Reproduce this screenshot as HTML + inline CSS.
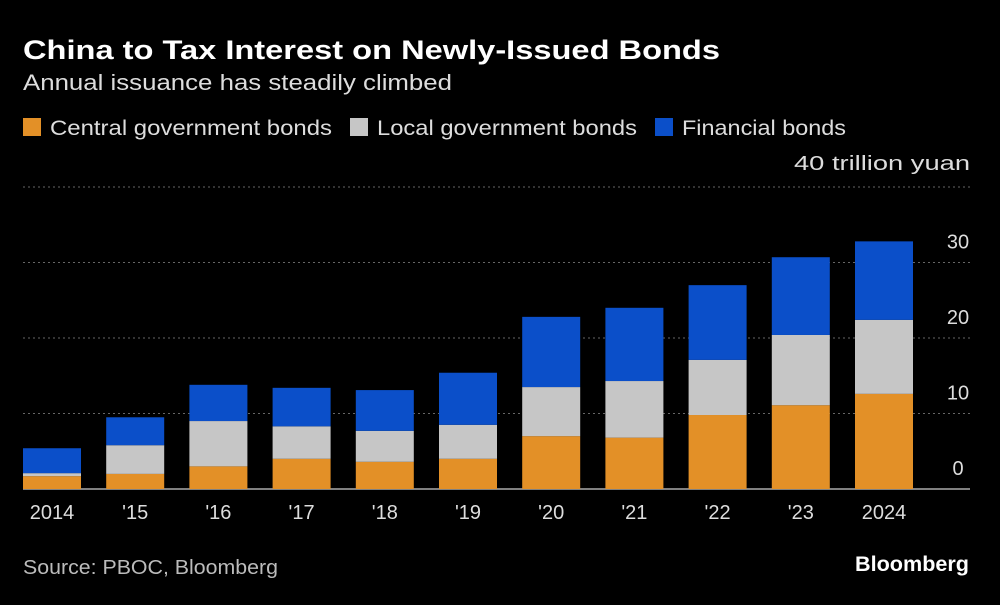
<!DOCTYPE html>
<html><head><meta charset="utf-8"><style>
body{margin:0;background:#000;width:1000px;height:600px;overflow:hidden;font-family:"Liberation Sans",sans-serif;color:#fff}
svg text{font-family:"Liberation Sans",sans-serif}
</style></head><body>
<svg width="1000" height="600">
<text x="23" y="59" font-size="27" font-weight="bold" fill="#fff" textLength="697" lengthAdjust="spacingAndGlyphs">China to Tax Interest on Newly-Issued Bonds</text>
<text x="23" y="90" font-size="22" fill="#ddd" textLength="429" lengthAdjust="spacingAndGlyphs">Annual issuance has steadily climbed</text>
<g>
<rect x="23" y="118" width="18" height="18" fill="#e39027"/>
<text x="50" y="135" font-size="21" fill="#ddd" textLength="282" lengthAdjust="spacingAndGlyphs">Central government bonds</text>
<rect x="350" y="118" width="18" height="18" fill="#c6c6c6"/>
<text x="377" y="135" font-size="21" fill="#ddd" textLength="260" lengthAdjust="spacingAndGlyphs">Local government bonds</text>
<rect x="655" y="118" width="18" height="18" fill="#0b4fc9"/>
<text x="682" y="135" font-size="21" fill="#ddd" textLength="164" lengthAdjust="spacingAndGlyphs">Financial bonds</text>
</g>
<g id="grid"></g><g id="bars"></g><g id="xl"></g>
<text x="23" y="574" font-size="20" fill="#bbb" textLength="255" lengthAdjust="spacingAndGlyphs">Source: PBOC, Bloomberg</text>
<text x="969" y="571" font-size="21" font-weight="bold" fill="#fff" text-anchor="end" textLength="114" lengthAdjust="spacingAndGlyphs">Bloomberg</text>
</svg>
<script>
const categories=["2014","'15","'16","'17","'18","'19","'20","'21","'22","'23","2024"];
const central=[1.7,2.0,3.0,4.0,3.6,4.0,7.0,6.8,9.8,11.1,12.6];
const local=[0.4,3.8,6.0,4.3,4.1,4.5,6.5,7.5,7.3,9.3,9.8];
const financial=[3.3,3.7,4.8,5.1,5.4,6.9,9.3,9.7,9.9,10.3,10.4];
const yTicks=[0,10,20,30,40];
const NS="http://www.w3.org/2000/svg";
const y=v=>489-v*7.55;
const x=i=>23+i*83.2;
const bw=58;
function mk(t,a,p){const e=document.createElementNS(NS,t);for(const k in a)e.setAttribute(k,a[k]);p.appendChild(e);return e;}
const g=document.getElementById('grid');
yTicks.forEach(t=>{
  if(t>0){const l=mk('line',{x1:23,x2:970,y1:y(t),y2:y(t),stroke:'#666','stroke-dasharray':'2,3'},g);
  
  }
  const a={x:t==40?970:958,y:y(t)-(t==40?17:14),'font-size':20,fill:'#ddd','text-anchor':t==40?'end':'middle'};
  if(t==40){a.textLength=176;a.lengthAdjust='spacingAndGlyphs';}
  const tx=mk('text',a,g);
  tx.textContent=t==40?'40 trillion yuan':String(t);
  
  
});
const base=mk('line',{x1:23,x2:970,y1:489,y2:489,stroke:'#aaa','stroke-width':1.5},g);


const b=document.getElementById('bars'),xl=document.getElementById('xl');
categories.forEach((c,i)=>{
  let acc=0;
  [[central,'#e39027','central'],[local,'#c6c6c6','local'],[financial,'#0b4fc9','financial']].forEach(([arr,col,nm])=>{
    const v=arr[i];
    const r=mk('rect',{x:x(i),y:y(acc+v),width:bw,height:y(acc)-y(acc+v),fill:col},b);
    
    
    acc+=v;
  });
  const t=mk('text',{x:x(i)+bw/2,y:519,'font-size':20,fill:'#ddd','text-anchor':'middle'},xl);
  t.textContent=c;
  
  
});
</script>
</body></html>
